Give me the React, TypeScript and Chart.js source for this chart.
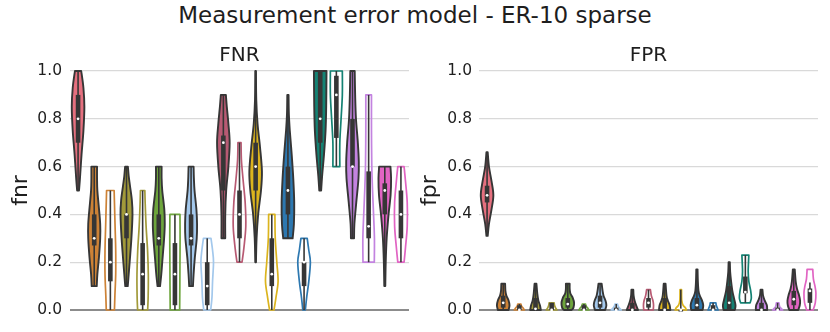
import React, { useEffect, useRef } from 'react';
import { Chart, registerables } from 'chart.js';
Chart.register(...registerables);

const FONT = "'DejaVu Sans', sans-serif";
const TEXT = '#1e1e1e';
const INNER = '#363636';

const methods = ['M1','M2','M3','M4','M5','M6','M7','M8','M9','M10','M11','M12','M13','M14','M15','M16','M17','M18','M19','M20','M21'];
const colors = ['#e5707f','#cd8236','#cd8236','#a29a3a','#a29a3a','#6da53c','#6da53c','#a3c8ec','#a3c8ec','#b85a73','#b85a73','#dbb41e','#dbb41e','#2d78b0','#2d78b0','#148273','#148273','#c383e0','#c383e0','#e164c3','#e164c3'];
const filled = [true,true,false,true,false,true,false,true,false,true,false,true,false,true,false,true,false,true,false,true,false];

const yTicks = [0, 0.2, 0.4, 0.6, 0.8, 1.0];

// FNR: box statistics
const fnrLow = [0.5,0.1,0,0.1,0,0.1,0,0.1,0,0.3,0.2,0.2,0,0.3,0,0.5,0.6,0.3,0.2,0.1,0.2];
const fnrQ1 = [0.7,0.27,0.12,0.3,0.02,0.27,0.02,0.27,0.02,0.5,0.3,0.5,0.1,0.4,0.1,0.7,0.72,0.6,0.3,0.4,0.3];
const fnrMedian = [0.8,0.3,0.2,0.4,0.15,0.3,0.15,0.3,0.1,0.7,0.4,0.6,0.15,0.5,0.2,0.8,0.9,0.6,0.35,0.5,0.4];
const fnrQ3 = [0.9,0.4,0.3,0.4,0.28,0.4,0.28,0.4,0.2,0.73,0.5,0.7,0.3,0.6,0.2,1.0,0.98,0.8,0.58,0.53,0.5];
const fnrHigh = [1.0,0.6,0.5,0.6,0.5,0.6,0.4,0.6,0.3,0.9,0.7,1.0,0.4,0.9,0.3,1.0,1.0,1.0,0.9,0.6,0.6];
// FNR: density outline knots [value, relative half-width]
const fnrDensity = [
  [[0.5,0.15],[0.55,0.3],[0.65,0.55],[0.75,0.85],[0.85,1.0],[0.93,0.85],[1.0,0.5]],
  [[0.1,0.4],[0.15,0.5],[0.22,0.75],[0.3,0.95],[0.36,0.95],[0.44,0.7],[0.5,0.5],[0.55,0.45],[0.6,0.45]],
  [[0,0.65],[0.06,0.72],[0.15,0.85],[0.25,0.85],[0.35,0.75],[0.45,0.65],[0.5,0.6]],
  [[0.1,0.2],[0.15,0.35],[0.2,0.5],[0.3,0.78],[0.4,0.95],[0.46,0.85],[0.52,0.55],[0.56,0.35],[0.6,0.22]],
  [[0,0.8],[0.06,0.88],[0.15,0.9],[0.25,0.78],[0.35,0.55],[0.45,0.4],[0.5,0.35]],
  [[0.1,0.2],[0.15,0.4],[0.2,0.55],[0.3,0.85],[0.36,0.95],[0.42,0.88],[0.5,0.55],[0.55,0.45],[0.6,0.45]],
  [[0,0.75],[0.1,0.78],[0.2,0.8],[0.3,0.82],[0.4,0.8]],
  [[0.1,0.3],[0.15,0.4],[0.22,0.6],[0.3,0.9],[0.36,0.95],[0.42,0.85],[0.5,0.55],[0.55,0.45],[0.6,0.4]],
  [[0,0.55],[0.05,0.75],[0.12,0.85],[0.2,1.0],[0.25,0.85],[0.3,0.6]],
  [[0.3,0.3],[0.4,0.3],[0.5,0.45],[0.6,0.8],[0.7,1.0],[0.78,0.8],[0.85,0.55],[0.9,0.4]],
  [[0.2,0.4],[0.26,0.7],[0.35,1.0],[0.45,0.9],[0.55,0.55],[0.63,0.3],[0.7,0.25]],
  [[0.2,0.05],[0.3,0.15],[0.4,0.4],[0.5,0.85],[0.58,1.0],[0.68,0.7],[0.78,0.3],[0.88,0.1],[1.0,0.05]],
  [[0,0.35],[0.05,0.65],[0.12,1.0],[0.2,0.8],[0.3,0.55],[0.4,0.5]],
  [[0.3,0.75],[0.36,0.95],[0.45,1.0],[0.55,0.85],[0.65,0.6],[0.75,0.3],[0.82,0.15],[0.9,0.1]],
  [[0,0.2],[0.05,0.4],[0.12,0.75],[0.2,1.0],[0.25,0.75],[0.3,0.5]],
  [[0.5,0.15],[0.56,0.3],[0.65,0.6],[0.75,0.85],[0.85,0.95],[1.0,1.0]],
  [[0.6,0.55],[0.7,0.55],[0.8,0.75],[0.9,0.95],[1.0,0.95]],
  [[0.3,0.25],[0.36,0.3],[0.45,0.6],[0.55,0.95],[0.62,1.0],[0.7,0.85],[0.8,0.55],[0.9,0.42],[1.0,0.35]],
  [[0.2,0.9],[0.3,0.92],[0.4,0.78],[0.5,0.62],[0.6,0.5],[0.75,0.45],[0.9,0.45]],
  [[0.1,0.08],[0.2,0.15],[0.3,0.3],[0.4,0.6],[0.48,0.92],[0.55,1.0],[0.6,0.9]],
  [[0.2,0.5],[0.26,0.72],[0.35,1.0],[0.45,1.0],[0.54,0.72],[0.6,0.5]],
];

// FPR: box statistics
const fprLow = [0.31,0,0,0,0,0,0,0,0,0,0,0,0,0,0,0,0.03,0,0,0,0];
const fprQ1 = [0.45,0.01,0,0,0,0.01,0,0.01,0,0,0.01,0,0,0,0,0,0.07,0,0,0.02,0.03];
const fprMedian = [0.48,0.03,0,0.005,0,0.025,0,0.03,0,0,0.03,0,0,0.02,0,0.03,0.075,0,0,0.045,0.08];
const fprQ3 = [0.52,0.06,0.02,0.05,0.03,0.05,0.02,0.06,0.01,0.03,0.05,0.05,0,0.05,0.02,0.1,0.14,0.03,0.01,0.08,0.09];
const fprHigh = [0.66,0.11,0.025,0.11,0.03,0.11,0.025,0.11,0.025,0.085,0.085,0.11,0.085,0.17,0.03,0.2,0.23,0.085,0.03,0.17,0.115];
const fprDensity = [
  [[0.31,0.1],[0.36,0.3],[0.42,0.7],[0.48,1.0],[0.54,0.7],[0.6,0.3],[0.66,0.1]],
  [[0,0.85],[0.02,1.0],[0.04,0.85],[0.06,0.5],[0.08,0.35],[0.11,0.3]],
  [[0,0.8],[0.008,0.6],[0.016,0.35],[0.025,0.25]],
  [[0,0.85],[0.02,0.7],[0.04,0.45],[0.07,0.28],[0.11,0.15]],
  [[0,0.85],[0.01,0.6],[0.02,0.45],[0.03,0.4]],
  [[0,0.6],[0.01,0.9],[0.03,1.0],[0.05,0.8],[0.07,0.4],[0.09,0.3],[0.11,0.3]],
  [[0,0.8],[0.008,0.6],[0.016,0.35],[0.025,0.25]],
  [[0,0.8],[0.02,1.0],[0.04,0.85],[0.06,0.55],[0.08,0.4],[0.1,0.3],[0.11,0.25]],
  [[0,0.8],[0.008,0.5],[0.016,0.3],[0.025,0.2]],
  [[0,0.9],[0.02,0.6],[0.04,0.35],[0.06,0.2],[0.085,0.15]],
  [[0,0.75],[0.02,0.8],[0.04,0.7],[0.06,0.45],[0.085,0.3]],
  [[0,0.9],[0.02,0.8],[0.04,0.5],[0.06,0.3],[0.11,0.15]],
  [[0,0.9],[0.01,0.7],[0.02,0.35],[0.04,0.15],[0.085,0.12]],
  [[0,0.9],[0.02,1.0],[0.04,0.8],[0.06,0.45],[0.08,0.25],[0.12,0.15],[0.17,0.1]],
  [[0,0.8],[0.01,0.65],[0.02,0.5],[0.03,0.45]],
  [[0,0.9],[0.02,1.0],[0.05,0.75],[0.08,0.5],[0.12,0.3],[0.16,0.15],[0.2,0.1]],
  [[0.03,0.75],[0.05,0.95],[0.08,0.85],[0.12,0.55],[0.16,0.45],[0.2,0.5],[0.23,0.55]],
  [[0,0.9],[0.02,0.85],[0.04,0.5],[0.06,0.25],[0.085,0.15]],
  [[0,0.8],[0.008,0.5],[0.016,0.3],[0.03,0.2]],
  [[0,0.7],[0.02,0.95],[0.04,1.0],[0.06,0.85],[0.09,0.5],[0.12,0.3],[0.17,0.15]],
  [[0,0.5],[0.03,0.85],[0.07,0.95],[0.1,0.8],[0.13,0.55],[0.17,0.45]],
];

type Pt = { x: number; y: number };
function spline(ctx: CanvasRenderingContext2D, pts: Pt[]) {
  const t = 1 / 6;
  for (let i = 0; i < pts.length - 1; i++) {
    const p0 = pts[i - 1] || pts[i];
    const p1 = pts[i];
    const p2 = pts[i + 1];
    const p3 = pts[i + 2] || p2;
    ctx.bezierCurveTo(
      p1.x + (p2.x - p0.x) * t, p1.y + (p2.y - p0.y) * t,
      p2.x - (p3.x - p1.x) * t, p2.y - (p3.y - p1.y) * t,
      p2.x, p2.y
    );
  }
}

const violinPlugin = {
  id: 'violins',
  afterDatasetsDraw(chart: any) {
    const ds = chart.data.datasets[0];
    const xs = chart.scales.x;
    const ys = chart.scales.y;
    const ctx: CanvasRenderingContext2D = chart.ctx;
    const n = chart.data.labels.length;
    const slot = xs.getPixelForValue(1) - xs.getPixelForValue(0);
    const unit = slot * 0.39;
    ctx.save();
    for (let i = 0; i < n; i++) {
      const cx = xs.getPixelForValue(i);
      const knots: number[][] = ds.density[i];
      const right = knots.map(([v, w]) => ({ x: cx + w * unit, y: ys.getPixelForValue(v) }));
      const left = knots.map(([v, w]) => ({ x: cx - w * unit, y: ys.getPixelForValue(v) })).reverse();
      ctx.beginPath();
      ctx.moveTo(right[0].x, right[0].y);
      spline(ctx, right);
      ctx.lineTo(left[0].x, left[0].y);
      spline(ctx, left);
      ctx.closePath();
      ctx.lineJoin = 'round';
      if (ds.filledFlags[i]) {
        ctx.fillStyle = ds.violinColors[i];
        ctx.fill();
        ctx.strokeStyle = INNER;
        ctx.lineWidth = 1.9;
        ctx.stroke();
      } else {
        ctx.strokeStyle = ds.violinColors[i];
        ctx.lineWidth = 1.7;
        ctx.stroke();
      }
      // whisker
      const yLo = ys.getPixelForValue(ds.low[i]);
      const yHi = ys.getPixelForValue(ds.high[i]);
      ctx.strokeStyle = INNER;
      ctx.lineWidth = 1.6;
      ctx.lineCap = 'butt';
      ctx.beginPath();
      ctx.moveTo(cx, yLo);
      ctx.lineTo(cx, yHi);
      ctx.stroke();
      // box
      const yQ1 = ys.getPixelForValue(ds.q1[i]);
      const yQ3 = ys.getPixelForValue(ds.q3[i]);
      const bw = 4.6;
      ctx.fillStyle = INNER;
      ctx.fillRect(cx - bw / 2, Math.min(yQ1, yQ3), bw, Math.max(Math.abs(yQ1 - yQ3), 1.5));
      // median
      const yM = ys.getPixelForValue(ds.median[i]);
      ctx.fillStyle = '#ffffff';
      ctx.beginPath();
      ctx.arc(cx, yM, 1.4, 0, Math.PI * 2);
      ctx.fill();
    }
    ctx.restore();
  },
};

type PanelProps = {
  title: string;
  yLabel: string;
  low: number[]; q1: number[]; median: number[]; q3: number[]; high: number[];
  density: number[][][];
  axisWidth: number; padRight: number; titlePad: number; tickPad: number;
  left: number;
};

function Panel(p: PanelProps) {
  const ref = useRef<HTMLCanvasElement>(null);
  useEffect(() => {
    if (!ref.current) return;
    Chart.defaults.font.family = FONT;
    const chart = new Chart(ref.current, {
      type: 'bar',
      data: {
        labels: methods,
        datasets: [
          {
            label: p.yLabel,
            data: p.low.map((l, i) => [l, p.high[i]]) as any,
            backgroundColor: 'rgba(0,0,0,0)',
            borderWidth: 0,
            low: p.low, q1: p.q1, median: p.median, q3: p.q3, high: p.high,
            density: p.density,
            violinColors: colors,
            filledFlags: filled,
          } as any,
        ],
      },
      options: {
        animation: false,
        responsive: false,
        devicePixelRatio: 1,
        layout: { padding: { top: 44, left: 0, right: p.padRight, bottom: 22 } },
        plugins: {
          legend: { display: false },
          tooltip: { enabled: false },
          title: {
            display: true,
            text: p.title,
            fullSize: false,
            color: TEXT,
            font: { size: 20, weight: 'normal', family: FONT },
            padding: { top: 0, bottom: 3 },
          },
        },
        scales: {
          x: { display: false, offset: true },
          y: {
            min: 0,
            max: 1,
            afterBuildTicks: (s: any) => { s.ticks = yTicks.map((v) => ({ value: v })); },
            afterFit: (s: any) => { s.width = p.axisWidth; },
            ticks: {
              padding: p.tickPad,
              color: TEXT,
              font: { size: 15.5, family: FONT },
              callback: (v: any) => Number(v).toFixed(1),
            },
            grid: {
              drawTicks: false,
              color: (c: any) => (c.tick && c.tick.value === 0 ? '#8c8c8c' : '#d9d9d9'),
              lineWidth: (c: any) => (c.tick && c.tick.value === 0 ? 2 : 1.2),
            },
            border: { display: false },
            title: {
              display: true,
              text: p.yLabel,
              color: TEXT,
              font: { size: 22, family: FONT },
              padding: { top: p.titlePad, bottom: 0 },
            },
          },
        },
      } as any,
      plugins: [violinPlugin],
    });
    return () => chart.destroy();
  }, []);
  return (
    <canvas
      ref={ref}
      width={415}
      height={332}
      style={{ position: 'absolute', left: p.left, top: 0, width: 415, height: 332 }}
    />
  );
}

export default function App() {
  return (
    <div style={{ position: 'fixed', left: 0, top: 0, width: 830, height: 332, background: '#fff', overflow: 'hidden' }}>
      <div
        style={{
          position: 'absolute', left: 0, top: 2, width: 830, textAlign: 'center',
          fontFamily: FONT, fontSize: 23, lineHeight: '26px', color: TEXT,
        }}
      >
        Measurement error model - ER-10 sparse
      </div>
      <Panel
        title="FNR" yLabel="fnr"
        low={fnrLow} q1={fnrQ1} median={fnrMedian} q3={fnrQ3} high={fnrHigh} density={fnrDensity}
        axisWidth={70} padRight={6} titlePad={8} tickPad={8} left={0}
      />
      <Panel
        title="FPR" yLabel="fpr"
        low={fprLow} q1={fprQ1} median={fprMedian} q3={fprQ3} high={fprHigh} density={fprDensity}
        axisWidth={64} padRight={12} titlePad={2} tickPad={7} left={415}
      />
    </div>
  );
}
